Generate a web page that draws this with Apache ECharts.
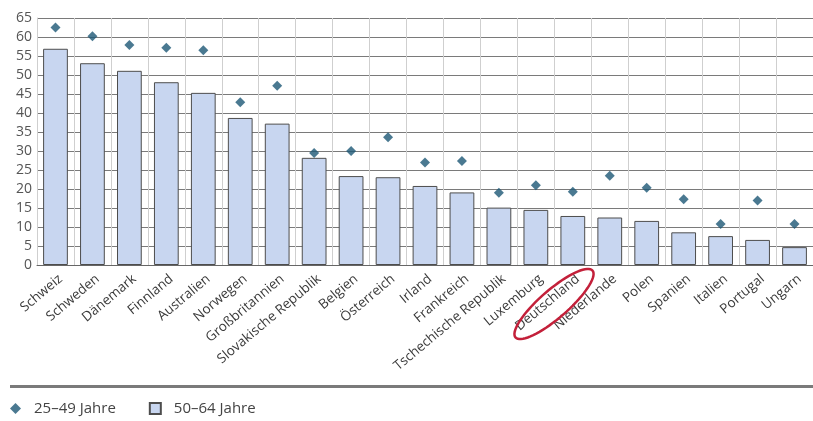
<!DOCTYPE html>
<html>
<head>
<meta charset="utf-8">
<script src="https://cdn.jsdelivr.net/npm/echarts@6/dist/echarts.min.js"></script>
<style>
  html, body { margin: 0; padding: 0; background: #ffffff; }
  #chart { width: 813px; height: 421px; }
</style>
</head>
<body>
<div id="chart"></div>
<script>
// Erwerbsbeteiligung nach Altersgruppen, in Prozent
const countries = [
  'Schweiz', 'Schweden', 'Dänemark', 'Finnland', 'Australien', 'Norwegen',
  'Großbritannien', 'Slovakische Republik', 'Belgien', 'Österreich', 'Irland',
  'Frankreich', 'Tschechische Republik', 'Luxemburg', 'Deutschland',
  'Niederlande', 'Polen', 'Spanien', 'Italien', 'Portugal', 'Ungarn'
];
const age25to49 = [62.5, 60.2, 57.9, 57.2, 56.5, 42.8, 47.2, 29.5, 30.0, 33.6, 27.0,
                   27.4, 19.0, 21.0, 19.3, 23.5, 20.3, 17.3, 10.8, 17.0, 10.8];
const age50to64 = [56.9, 53.1, 51.1, 48.1, 45.3, 38.7, 37.2, 28.2, 23.4, 23.1, 20.8,
                   19.1, 15.1, 14.5, 12.9, 12.5, 11.6, 8.6, 7.6, 6.6, 4.7];
const seriesNames = ['25–49 Jahre', '50–64 Jahre'];
const yTicks = { min: 0, max: 65, interval: 5 };

const FONT = '"Open Sans", "DejaVu Sans", sans-serif';

// red oval drawn around the "Deutschland" axis label
function ovalPoints(cx, cy, a, b, angleDeg) {
  const pts = [];
  const t = angleDeg * Math.PI / 180;
  for (let i = 0; i < 72; i++) {
    const u = i / 72 * Math.PI * 2;
    const x = a * Math.cos(u), y = b * Math.sin(u);
    pts.push([cx + x * Math.cos(t) - y * Math.sin(t), cy + x * Math.sin(t) + y * Math.cos(t)]);
  }
  return pts;
}

const chart = echarts.init(document.getElementById('chart'), null, { renderer: 'canvas' });
chart.setOption({
  animation: false,
  backgroundColor: '#ffffff',
  textStyle: { fontFamily: FONT },
  grid: { left: 37, right: -9, top: 18, bottom: 156, containLabel: false },
  legend: {
    left: 5, top: 396,
    itemWidth: 11, itemHeight: 11, itemGap: 33,
    textStyle: { fontFamily: FONT, fontSize: 15, color: '#444', padding: [0, 0, 0, 8] },
    data: [
      { name: seriesNames[0], icon: 'diamond' },
      { name: seriesNames[1], icon: 'rect' }
    ]
  },
  xAxis: {
    type: 'category',
    data: countries,
    boundaryGap: true,
    axisLine: { lineStyle: { color: '#666', width: 1 } },
    axisTick: { show: false },
    splitLine: { show: true, interval: 0, lineStyle: { color: '#cfcfcf', width: 1 } },
    axisLabel: {
      interval: 0, rotate: 40, margin: 6, lineHeight: 16,
      // an empty first line pushes each name half a line below its anchor
      formatter: (v) => '\n' + v,
      fontFamily: FONT, fontSize: 13.5, color: '#3a3a3a'
    }
  },
  yAxis: {
    type: 'value',
    min: yTicks.min, max: yTicks.max, interval: yTicks.interval,
    axisLine: { show: true, lineStyle: { color: '#cfcfcf' } },
    axisTick: { show: false },
    splitLine: { lineStyle: { color: '#7a7a7a', width: 1 } },
    axisLabel: { fontFamily: FONT, fontSize: 14, color: '#555', margin: 5 }
  },
  series: [
    {
      name: seriesNames[1],
      type: 'bar',
      data: age50to64,
      barWidth: '67%',
      itemStyle: { color: '#c8d6f0', borderColor: '#4d4d4d', borderWidth: 1 },
      z: 2
    },
    {
      name: seriesNames[0],
      type: 'scatter',
      data: age25to49,
      symbol: 'diamond',
      symbolSize: [10, 10],
      itemStyle: { color: '#1d5875' },
      z: 3
    }
  ],
  graphic: [
    {
      type: 'polygon',
      shape: { points: ovalPoints(554, 304, 51, 14, -41) },
      style: { fill: 'none', stroke: '#c3203a', lineWidth: 2.5 },
      z: 10
    },
    {
      type: 'rect',
      shape: { x: 10, y: 385, width: 810, height: 3 },
      style: { fill: '#7a7a7a' },
      z: 10
    }
  ]
});
</script>
</body>
</html>
